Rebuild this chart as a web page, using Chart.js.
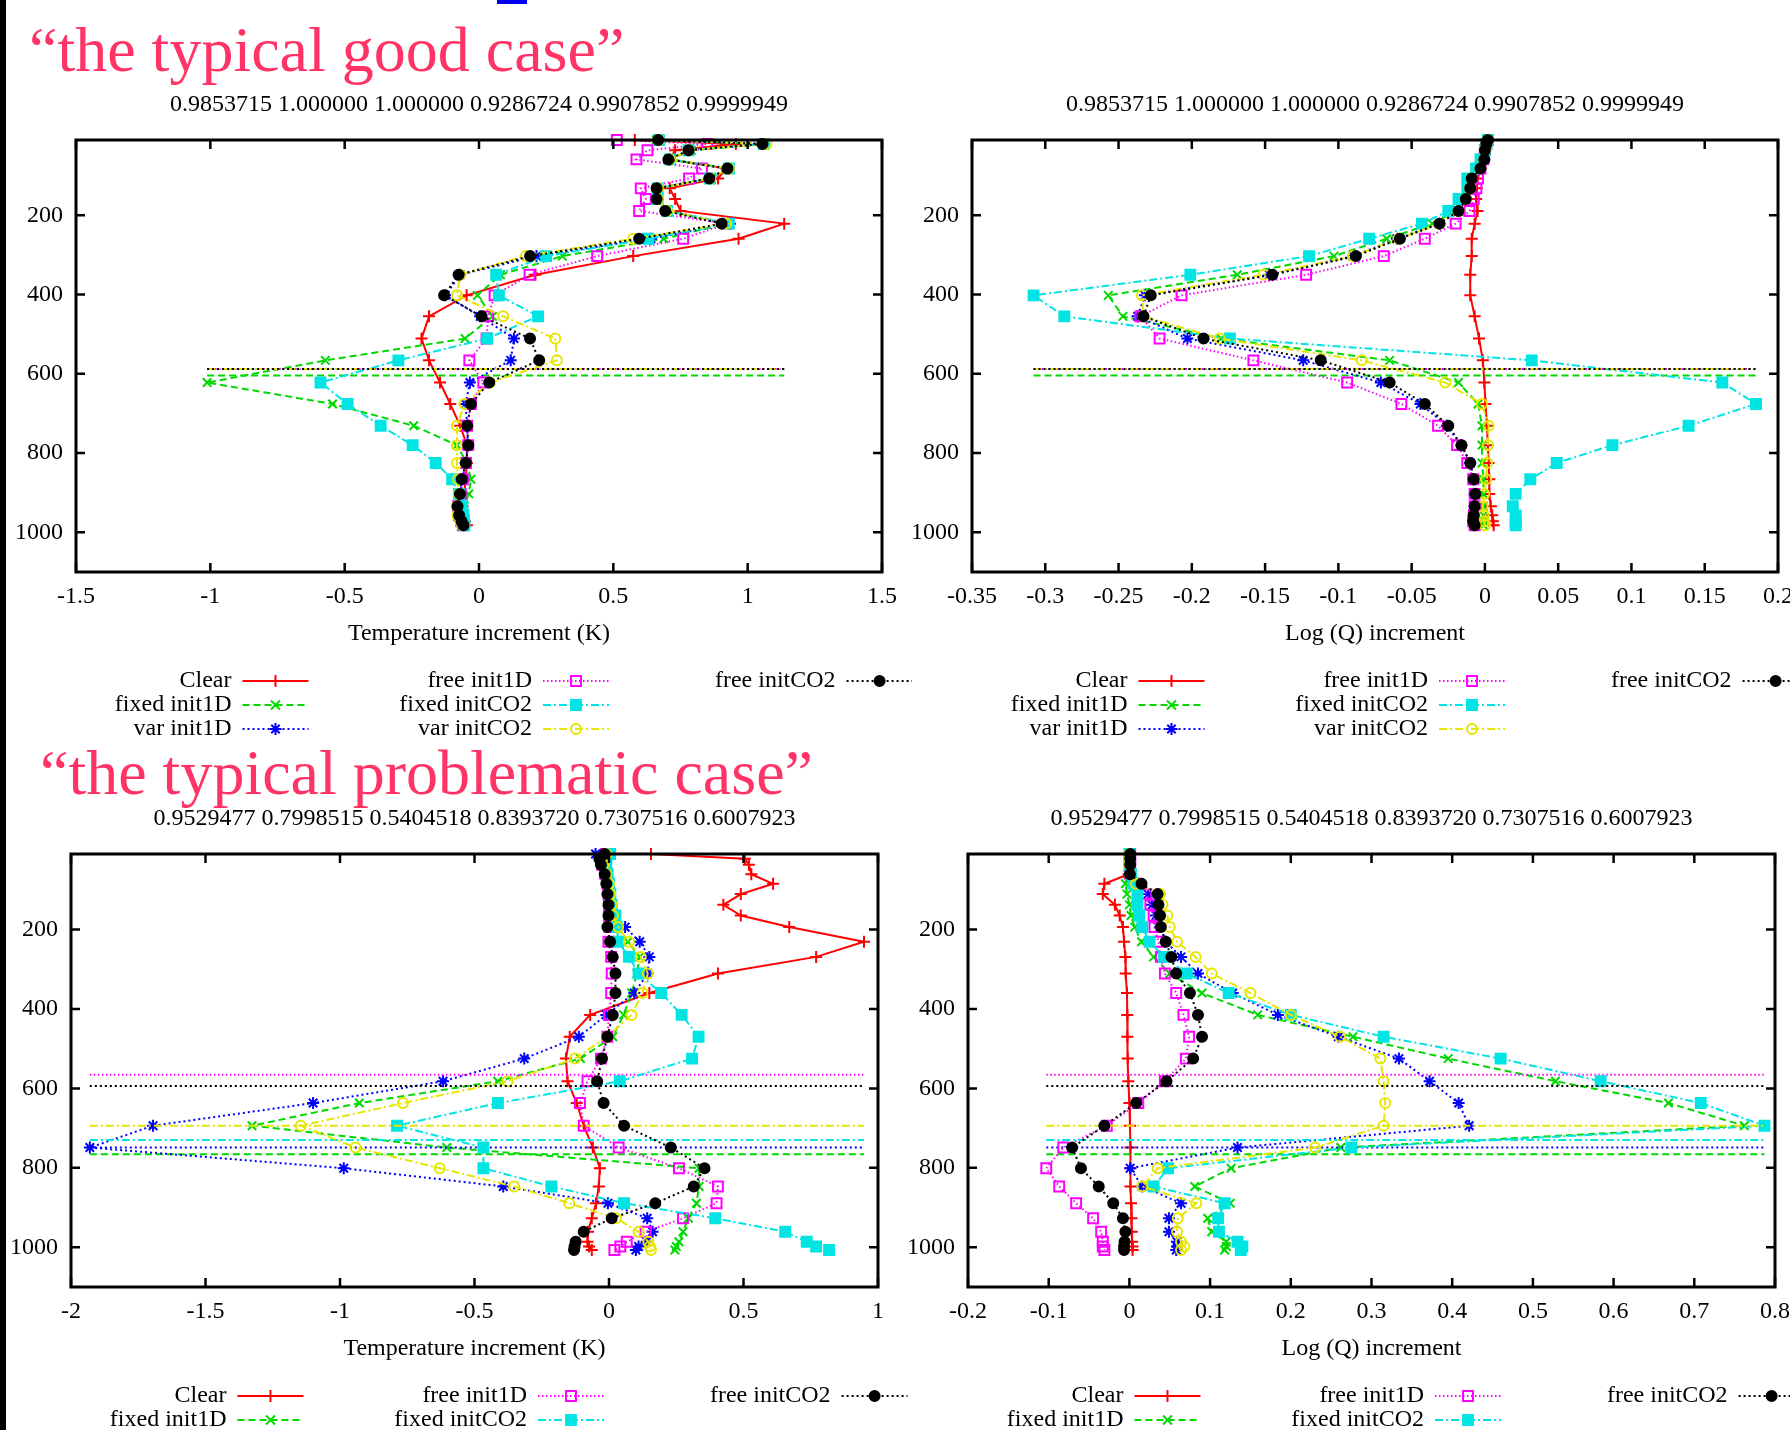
<!DOCTYPE html>
<html>
<head>
<meta charset="utf-8">
<title>Increment profiles</title>
<script src="https://cdn.jsdelivr.net/npm/chart.js@4.4.1/dist/chart.umd.min.js"></script>
<style>
  html, body { margin: 0; padding: 0; background: #fff; }
  body { position: relative; width: 1790px; height: 1430px; overflow: hidden; }
  canvas.panel { position: absolute; }
  .heading { position: absolute; z-index: 2; font-family: "Liberation Serif", "Times New Roman", serif; font-size: 64px; line-height: 64px; color: #ff3366; white-space: nowrap; }
  #edge { position: absolute; left: 0; top: 0; width: 6px; height: 1430px; background: #000; z-index: 3; }
  #tab { position: absolute; left: 497px; top: 0; width: 30px; height: 4px; background: #0000ee; }
</style>
</head>
<body>
<div id="edge"></div>
<div id="tab"></div>
<canvas id="goodT" class="panel"></canvas>
<canvas id="goodQ" class="panel"></canvas>
<canvas id="probT" class="panel"></canvas>
<canvas id="probQ" class="panel"></canvas>
<div class="heading" style="left:29px; top:18px;">“the typical good case”</div>
<div class="heading" style="left:40px; top:741px;">“the typical problematic case”</div>
<script>
// profils d'increments (T et log Q) pour les deux cas
const FONT = '"Liberation Serif", "Times New Roman", serif';
Chart.defaults.font.family = FONT;
Chart.defaults.font.size = 24;
Chart.defaults.color = '#000';

const seriesNames = ['Clear', 'fixed init1D', 'var init1D', 'free init1D', 'fixed initCO2', 'var initCO2', 'free initCO2'];

// niveaux de pression (hPa)
const levelsGood = [10, 20, 36, 59, 82, 107, 132, 159, 189, 221, 259, 303, 350, 402, 455, 511, 566, 622, 676, 731, 780, 825, 866, 903, 934, 957, 972, 982];
const levelsProblem = [10, 22, 37, 61, 85, 111, 138, 165, 194, 231, 269, 311, 360, 415, 470, 525, 582, 637, 694, 749, 801, 847, 889, 927, 961, 986, 998, 1007];

const yTicks = [200, 400, 600, 800, 1000];
const xTicksGoodT = [-1.5, -1, -0.5, 0, 0.5, 1, 1.5];
const xTicksGoodQ = [-0.35, -0.3, -0.25, -0.2, -0.15, -0.1, -0.05, 0, 0.05, 0.1, 0.15, 0.2];
const xTicksProbT = [-2, -1.5, -1, -0.5, 0, 0.5, 1];
const xTicksProbQ = [-0.2, -0.1, 0, 0.1, 0.2, 0.3, 0.4, 0.5, 0.6, 0.7, 0.8];

const subtitleGood = '0.9853715 1.000000 1.000000 0.9286724 0.9907852 0.9999949';
const subtitleProb = '0.9529477 0.7998515 0.5404518 0.8393720 0.7307516 0.6007923';

// sommet des nuages (hPa), null = pas de ligne
const goodCloud = [null, 604, 588, 588, 588, 588, 588];
const probCloud = [null, 766, 749, 566, 730, 694, 594];

// cas "good" - temperature
const goodT_clear    = [0.58, 0.956, 0.73, 0.71, 0.92, 0.89, 0.71, 0.73, 0.75, 1.136, 0.966, 0.574, 0.21, -0.046, -0.186, -0.214, -0.186, -0.145, -0.107, -0.07, -0.045, -0.045, -0.05, -0.055, -0.06, -0.057, -0.052, -0.045];
const goodT_fixed1D  = [0.66, 1.06, 0.79, 0.71, 0.93, 0.86, 0.665, 0.665, 0.70, 0.92, 0.688, 0.31, 0.08, -0.006, 0.05, -0.052, -0.572, -1.012, -0.545, -0.243, -0.082, -0.045, -0.03, -0.038, -0.055, -0.06, -0.058, -0.055];
const goodT_var1D    = [0.67, 1.06, 0.78, 0.71, 0.93, 0.86, 0.665, 0.665, 0.70, 0.934, 0.64, 0.214, -0.07, -0.125, 0.004, 0.13, 0.118, -0.034, -0.05, -0.044, -0.042, -0.05, -0.062, -0.07, -0.078, -0.074, -0.066, -0.058];
const goodT_free1D   = [0.513, 0.85, 0.627, 0.586, 0.83, 0.782, 0.602, 0.621, 0.596, 0.925, 0.76, 0.44, 0.188, 0.058, 0.034, 0.028, -0.036, 0.016, -0.03, -0.044, -0.04, -0.048, -0.06, -0.068, -0.078, -0.074, -0.066, -0.06];
const goodT_fixedCO2 = [0.67, 1.06, 0.78, 0.71, 0.93, 0.86, 0.665, 0.665, 0.70, 0.93, 0.63, 0.25, 0.064, 0.074, 0.22, 0.03, -0.30, -0.59, -0.489, -0.366, -0.247, -0.161, -0.1, -0.075, -0.062, -0.058, -0.056, -0.054];
const goodT_varCO2   = [0.67, 1.07, 0.78, 0.71, 0.93, 0.86, 0.665, 0.665, 0.70, 0.92, 0.574, 0.174, -0.07, -0.082, 0.09, 0.284, 0.29, 0.04, -0.054, -0.082, -0.082, -0.082, -0.078, -0.074, -0.083, -0.08, -0.07, -0.062];
const goodT_freeCO2  = [0.667, 1.055, 0.78, 0.705, 0.925, 0.857, 0.661, 0.661, 0.693, 0.903, 0.596, 0.19, -0.076, -0.13, 0.01, 0.19, 0.224, 0.038, -0.03, -0.044, -0.04, -0.049, -0.064, -0.071, -0.08, -0.074, -0.065, -0.058];

// cas "good" - log Q
const goodQ_clear    = [0.002, 0.001, 0.0, -0.001, -0.003, -0.005, -0.0055, -0.006, -0.005, -0.007, -0.009, -0.009, -0.010, -0.010, -0.007, -0.004, -0.0014, -0.0004, 0.0004, 0.0014, 0.002, 0.0025, 0.003, 0.003, 0.004, 0.005, 0.0054, 0.006];
const goodQ_fixed1D  = [0.002, 0.001, 0.0, -0.001, -0.003, -0.009, -0.011, -0.014, -0.020, -0.036, -0.067, -0.103, -0.169, -0.257, -0.247, -0.18, -0.065, -0.018, -0.0047, -0.002, -0.002, -0.002, -0.001, -0.001, -0.001, -0.001, -0.001, -0.001];
const goodQ_var1D    = [0.002, 0.001, 0.0, -0.0004, -0.003, -0.009, -0.010, -0.013, -0.018, -0.031, -0.06, -0.09, -0.147, -0.232, -0.237, -0.203, -0.124, -0.071, -0.044, -0.026, -0.016, -0.010, -0.008, -0.007, -0.007, -0.0076, -0.008, -0.007];
const goodQ_free1D   = [0.002, 0.001, 0.0, -0.001, -0.003, -0.0047, -0.0058, -0.0076, -0.0105, -0.020, -0.041, -0.069, -0.122, -0.207, -0.235, -0.222, -0.158, -0.094, -0.057, -0.032, -0.019, -0.012, -0.008, -0.007, -0.007, -0.0076, -0.008, -0.007];
const goodQ_fixedCO2 = [0.002, 0.001, 0.0, -0.003, -0.006, -0.012, -0.012, -0.018, -0.025, -0.043, -0.079, -0.12, -0.201, -0.308, -0.287, -0.174, 0.032, 0.162, 0.185, 0.139, 0.087, 0.049, 0.031, 0.021, 0.019, 0.021, 0.021, 0.021];
const goodQ_varCO2   = [0.002, 0.001, 0.0, -0.0004, -0.003, -0.009, -0.010, -0.013, -0.018, -0.031, -0.059, -0.09, -0.151, -0.234, -0.233, -0.181, -0.084, -0.027, -0.002, 0.0025, 0.002, 0.0015, 0.0008, -0.0004, -0.0015, -0.001, -0.0004, 0.0];
const goodQ_freeCO2  = [0.002, 0.001, 0.0, -0.0004, -0.003, -0.009, -0.010, -0.013, -0.018, -0.031, -0.058, -0.088, -0.145, -0.228, -0.233, -0.192, -0.112, -0.065, -0.041, -0.025, -0.016, -0.010, -0.0076, -0.0065, -0.007, -0.0076, -0.008, -0.007];

// cas "problematic" - temperature
const probT_clear    = [0.156, 0.505, 0.52, 0.529, 0.61, 0.49, 0.425, 0.49, 0.67, 0.948, 0.77, 0.405, 0.15, -0.07, -0.146, -0.16, -0.154, -0.12, -0.094, -0.06, -0.034, -0.038, -0.048, -0.064, -0.078, -0.08, -0.074, -0.064];
const probT_fixed1D  = [-0.02, -0.03, -0.03, -0.02, -0.01, 0.0, 0.0, 0.01, 0.03, 0.07, 0.114, 0.104, 0.084, 0.054, 0.014, -0.106, -0.413, -0.928, -1.327, -0.603, 0.335, 0.335, 0.325, 0.295, 0.275, 0.26, 0.25, 0.245];
const probT_var1D    = [-0.05, -0.03, -0.02, -0.01, -0.005, 0.0, 0.01, 0.02, 0.06, 0.114, 0.15, 0.144, 0.094, -0.01, -0.112, -0.315, -0.617, -1.1, -1.695, -1.93, -0.986, -0.393, -0.004, 0.142, 0.162, 0.14, 0.11, 0.1];
const probT_free1D   = [-0.012, -0.03, -0.025, -0.013, -0.006, -0.002, 0.0, 0.0, 0.002, -0.002, 0.008, 0.01, 0.008, 0.0, -0.006, -0.03, -0.08, -0.108, -0.094, 0.036, 0.26, 0.405, 0.4, 0.275, 0.136, 0.066, 0.042, 0.02];
const probT_fixedCO2 = [0.004, -0.01, -0.01, -0.005, 0.0, 0.005, 0.01, 0.024, 0.03, 0.034, 0.074, 0.11, 0.194, 0.27, 0.333, 0.309, 0.04, -0.413, -0.788, -0.467, -0.467, -0.214, 0.056, 0.395, 0.655, 0.735, 0.77, 0.818];
const probT_varCO2   = [-0.01, -0.02, -0.02, -0.01, 0.0, 0.005, 0.01, 0.015, 0.034, 0.074, 0.118, 0.144, 0.124, 0.084, -0.006, -0.126, -0.377, -0.766, -1.146, -0.942, -0.629, -0.353, -0.148, 0.026, 0.11, 0.146, 0.152, 0.156];
const probT_freeCO2  = [-0.016, -0.036, -0.03, -0.016, -0.01, -0.006, -0.002, -0.002, -0.006, 0.004, 0.014, 0.024, 0.024, 0.014, -0.006, -0.026, -0.044, -0.02, 0.056, 0.23, 0.355, 0.315, 0.172, 0.01, -0.094, -0.124, -0.128, -0.13];

// cas "problematic" - log Q
const probQ_clear    = [0, 0, 0, -0.001, -0.031, -0.033, -0.018, -0.012, -0.008, -0.0066, -0.005, -0.0046, -0.003, -0.0026, -0.0026, -0.002, -0.0013, 0, 0.0007, 0.0013, 0.0013, 0.0013, 0.002, 0.0026, 0.003, 0.0033, 0.0039, 0.004];
const probQ_fixed1D  = [0, 0, 0, -0.002, -0.005, -0.003, 0, 0.002, 0.0066, 0.015, 0.03, 0.05, 0.09, 0.159, 0.277, 0.395, 0.528, 0.668, 0.762, 0.262, 0.126, 0.081, 0.125, 0.097, 0.102, 0.12, 0.12, 0.118];
const probQ_var1D    = [0, 0, 0, 0.001, 0.01, 0.023, 0.028, 0.033, 0.038, 0.045, 0.064, 0.085, 0.128, 0.184, 0.259, 0.334, 0.372, 0.408, 0.421, 0.134, 0.001, 0.016, 0.064, 0.049, 0.049, 0.059, 0.059, 0.058];
const probQ_free1D   = [0.001, 0.001, 0.001, 0.001, 0.01, 0.021, 0.026, 0.03, 0.031, 0.036, 0.039, 0.044, 0.058, 0.067, 0.074, 0.07, 0.044, 0.011, -0.028, -0.082, -0.103, -0.087, -0.066, -0.045, -0.035, -0.033, -0.033, -0.031];
const probQ_fixedCO2 = [0, 0, 0, 0.002, 0.005, 0.01, 0.01, 0.012, 0.016, 0.025, 0.043, 0.071, 0.123, 0.2, 0.315, 0.46, 0.584, 0.708, 0.787, 0.275, 0.048, 0.03, 0.118, 0.11, 0.111, 0.134, 0.14, 0.138];
const probQ_varCO2   = [0, 0, 0, 0.001, 0.008, 0.038, 0.041, 0.047, 0.05, 0.059, 0.082, 0.102, 0.15, 0.2, 0.261, 0.311, 0.315, 0.317, 0.315, 0.23, 0.035, 0.016, 0.083, 0.06, 0.059, 0.064, 0.068, 0.064];
const probQ_freeCO2  = [0.001, 0.001, 0.001, 0.0007, 0.015, 0.035, 0.036, 0.038, 0.039, 0.045, 0.052, 0.058, 0.075, 0.085, 0.09, 0.079, 0.046, 0.0085, -0.031, -0.071, -0.06, -0.038, -0.02, -0.008, -0.005, -0.006, -0.0066, -0.0066];

// styles facon gnuplot
const styles = [
    { color: '#ff0000', dash: [],           point: 'cross',    radius: 6, fill: false },
    { color: '#00d800', dash: [7, 4],       point: 'crossRot', radius: 6, fill: false },
    { color: '#0000ff', dash: [2, 3],       point: 'star',     radius: 6, fill: false },
    { color: '#ff00ff', dash: [1.5, 2.5],   point: 'rect',     radius: 7, fill: false },
    { color: '#00e4e4', dash: [8, 3, 2, 3], point: 'rect',     radius: 7, fill: true },
    { color: '#e6e600', dash: [8, 3, 2, 3], point: 'circle',   radius: 5, fill: false },
    { color: '#000000', dash: [2, 3],       point: 'circle',   radius: 5, fill: true }
];

const legendCols = [155.5, 456, 759.6];
const legendRows = [109, 133, 157];

function buildDatasets(values, levels, clouds) {
    const all = values.flat();
    const span = [Math.min(...all), Math.max(...all)];
    const sets = [];
    values.forEach((vals, i) => {
        const st = styles[i];
        const common = {
            showLine: true, borderColor: st.color, borderWidth: 2, borderDash: st.dash,
            tension: 0, fill: false, clip: false, order: 20 - i
        };
        sets.push(Object.assign({}, common, {
            label: seriesNames[i],
            data: vals.map((v, k) => ({ x: v, y: levels[k] })),
            pointStyle: st.point, pointRadius: st.radius, pointHoverRadius: st.radius,
            pointBorderWidth: 2, pointBorderColor: st.color,
            pointBackgroundColor: st.fill ? st.color : 'rgba(0,0,0,0)',
            backgroundColor: st.color
        }));
        // ligne horizontale du sommet de nuage
        if (clouds[i] !== null) {
            sets.push(Object.assign({}, common, {
                label: seriesNames[i] + ' cloud',
                data: [{ x: span[0], y: clouds[i] }, { x: span[1], y: clouds[i] }],
                pointRadius: 0, pointHoverRadius: 0
            }));
        }
    });
    return sets;
}

function drawMarker(ctx, st, x, y) {
    const r = st.radius;
    ctx.beginPath();
    if (st.point === 'cross') {
        ctx.moveTo(x - r, y); ctx.lineTo(x + r, y); ctx.moveTo(x, y - r); ctx.lineTo(x, y + r);
    } else if (st.point === 'crossRot') {
        const d = r * 0.75;
        ctx.moveTo(x - d, y - d); ctx.lineTo(x + d, y + d); ctx.moveTo(x - d, y + d); ctx.lineTo(x + d, y - d);
    } else if (st.point === 'star') {
        const d = r * 0.7;
        ctx.moveTo(x - r, y); ctx.lineTo(x + r, y); ctx.moveTo(x, y - r); ctx.lineTo(x, y + r);
        ctx.moveTo(x - d, y - d); ctx.lineTo(x + d, y + d); ctx.moveTo(x - d, y + d); ctx.lineTo(x + d, y - d);
    } else if (st.point === 'rect') {
        const s = r * Math.SQRT1_2;
        ctx.rect(x - s, y - s, 2 * s, 2 * s);
    } else {
        ctx.arc(x, y, r, 0, Math.PI * 2);
    }
    if (st.fill) { ctx.fillStyle = st.color; ctx.fill(); }
    ctx.stroke();
}

// cadre, graduations interieures et sous-titre
const framePlugin = {
    id: 'gpFrame',
    afterDatasetsDraw(chart, args, opts) {
        const { ctx, chartArea: a, scales } = chart;
        ctx.save();
        ctx.setLineDash([]);
        ctx.strokeStyle = '#000';
        ctx.lineWidth = 3;
        ctx.strokeRect(a.left, a.top, a.right - a.left, a.bottom - a.top);
        ctx.lineWidth = 2.5;
        ctx.beginPath();
        scales.x.ticks.forEach(t => {
            const px = scales.x.getPixelForValue(t.value);
            ctx.moveTo(px, a.bottom); ctx.lineTo(px, a.bottom - 9);
            ctx.moveTo(px, a.top); ctx.lineTo(px, a.top + 9);
        });
        scales.y.ticks.forEach(t => {
            const py = scales.y.getPixelForValue(t.value);
            ctx.moveTo(a.left, py); ctx.lineTo(a.left + 9, py);
            ctx.moveTo(a.right, py); ctx.lineTo(a.right - 9, py);
        });
        ctx.stroke();
        ctx.fillStyle = '#000';
        ctx.font = '24px ' + FONT;
        ctx.textAlign = 'center';
        ctx.textBaseline = 'middle';
        ctx.fillText(opts.subtitle, (a.left + a.right) / 2, a.top - 35);
        ctx.restore();
    }
};

// legende gnuplot : texte a droite, echantillon de ligne
const legendPlugin = {
    id: 'gpLegend',
    afterDraw(chart) {
        const { ctx, chartArea: a } = chart;
        ctx.save();
        ctx.font = '24px ' + FONT;
        ctx.textAlign = 'right';
        ctx.textBaseline = 'middle';
        seriesNames.forEach((name, i) => {
            const st = styles[i];
            const tx = a.left + legendCols[Math.floor(i / 3)];
            const ty = a.bottom + legendRows[i % 3];
            ctx.fillStyle = '#000';
            ctx.fillText(name, tx, ty);
            ctx.strokeStyle = st.color;
            ctx.lineWidth = 2;
            ctx.setLineDash(st.dash);
            ctx.beginPath();
            ctx.moveTo(tx + 11, ty); ctx.lineTo(tx + 77, ty);
            ctx.stroke();
            ctx.setLineDash([]);
            drawMarker(ctx, st, tx + 44, ty);
        });
        ctx.restore();
    }
};

const panels = [
    { id: 'goodT', left: 0,   top: 80,  w: 912, h: 670, padL: 6, levels: levelsGood, clouds: goodCloud,
      values: [goodT_clear, goodT_fixed1D, goodT_var1D, goodT_free1D, goodT_fixedCO2, goodT_varCO2, goodT_freeCO2],
      xTicks: xTicksGoodT, xTitle: 'Temperature increment (K)', subtitle: subtitleGood },
    { id: 'goodQ', left: 896, top: 80,  w: 912, h: 670, padL: 6, levels: levelsGood, clouds: goodCloud,
      values: [goodQ_clear, goodQ_fixed1D, goodQ_var1D, goodQ_free1D, goodQ_fixedCO2, goodQ_varCO2, goodQ_freeCO2],
      xTicks: xTicksGoodQ, xTitle: 'Log (Q) increment', subtitle: subtitleGood },
    { id: 'probT', left: 0,   top: 794, w: 908, h: 671, padL: 1, levels: levelsProblem, clouds: probCloud,
      values: [probT_clear, probT_fixed1D, probT_var1D, probT_free1D, probT_fixedCO2, probT_varCO2, probT_freeCO2],
      xTicks: xTicksProbT, xTitle: 'Temperature increment (K)', subtitle: subtitleProb },
    { id: 'probQ', left: 897, top: 794, w: 908, h: 671, padL: 1, levels: levelsProblem, clouds: probCloud,
      values: [probQ_clear, probQ_fixed1D, probQ_var1D, probQ_free1D, probQ_fixedCO2, probQ_varCO2, probQ_freeCO2],
      xTicks: xTicksProbQ, xTitle: 'Log (Q) increment', subtitle: subtitleProb }
];

function makeChart(p) {
    const canvas = document.getElementById(p.id);
    canvas.width = p.w;
    canvas.height = p.h;
    canvas.style.left = p.left + 'px';
    canvas.style.top = p.top + 'px';
    canvas.style.width = p.w + 'px';
    canvas.style.height = p.h + 'px';

    return new Chart(canvas, {
        type: 'scatter',
        data: { datasets: buildDatasets(p.values, p.levels, p.clouds) },
        options: {
            responsive: false,
            animation: false,
            devicePixelRatio: 1,
            events: [],
            layout: { padding: { left: p.padL, right: 30, top: 60, bottom: 102 } },
            plugins: {
                legend: { display: false },
                tooltip: { enabled: false },
                gpFrame: { subtitle: p.subtitle }
            },
            scales: {
                x: {
                    type: 'linear',
                    min: p.xTicks[0],
                    max: p.xTicks[p.xTicks.length - 1],
                    grid: { display: false, drawTicks: false },
                    border: { display: false },
                    ticks: {
                        padding: 10, autoSkip: false, maxRotation: 0,
                        callback: v => String(Number(Number(v).toFixed(3)))
                    },
                    afterBuildTicks: s => { s.ticks = p.xTicks.map(v => ({ value: v })); },
                    afterFit: s => { s.height = 76; },
                    title: { display: true, text: p.xTitle, padding: 0 }
                },
                y: {
                    type: 'linear',
                    reverse: true,
                    min: 10,
                    max: 1100,
                    grid: { display: false, drawTicks: false },
                    border: { display: false },
                    ticks: { padding: 13, callback: v => String(v) },
                    afterBuildTicks: s => { s.ticks = yTicks.map(v => ({ value: v })); },
                    afterFit: s => { s.width = 70; }
                }
            }
        },
        plugins: [framePlugin, legendPlugin]
    });
}

panels.forEach(makeChart);
</script>
</body>
</html>
